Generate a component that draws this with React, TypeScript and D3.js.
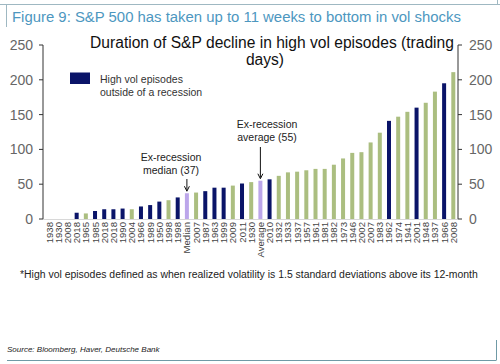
import React from "react";
import * as d3 from "d3";

const categories = [
  "1938", "1930", "2008", "2018", "1965", "1985", "2018", "2018", "1990", "2004",
  "1966", "1989", "1950", "1998", "1998", "Median", "2007", "1987", "1963", "1999",
  "2009", "2011", "1930", "Average", "2010", "1932", "1933", "1937", "1957", "1961",
  "1981", "1982", "1973", "1946", "2002", "2007", "1983", "1962", "1974", "1941",
  "2001", "1948", "1937", "1966", "2008",
];

const values = [
  0, 0, 0, 9, 8, 11.5, 14, 14, 15, 14,
  18, 20, 25, 27, 31, 37, 38, 40, 45, 45,
  48, 51, 53, 55, 57, 62, 67, 68, 70, 72,
  72, 78, 87, 95, 96, 110, 124, 141, 147, 154,
  160, 167, 183, 195, 211,
];

// n = outside of a recession, r = recession, s = statistic
const kinds = [
  "r", "r", "r", "n", "r", "n", "n", "n", "n", "r",
  "n", "n", "n", "r", "n", "s", "r", "n", "n", "n",
  "r", "n", "r", "s", "n", "r", "r", "r", "r", "r",
  "r", "r", "r", "r", "r", "r", "r", "n", "r", "r",
  "n", "r", "r", "n", "r",
];

const yTicks = [0, 50, 100, 150, 200, 250];

const COLORS: Record<string, string> = {
  n: "#0a1468",
  r: "#abbe80",
  s: "#bca6ea",
};

const FONT = "'Liberation Sans', Arial, Helvetica, sans-serif";

export default function App() {
  const W = 500;
  const H = 364;
  const x = d3.scalePoint<number>().domain(d3.range(categories.length)).range([49.1, 453.3]);
  const y = d3.scaleLinear().domain([0, 250]).range([219, 45]);
  const axL = 43;
  const axR = 458;
  const barW = 4;

  const medIdx = categories.indexOf("Median");
  const avgIdx = categories.indexOf("Average");

  const arrow = (i: number, top: number) => {
    const cx = x(i) as number;
    const tip = y(values[i]) - 2;
    return (
      <g>
        <line x1={cx} x2={cx} y1={top} y2={tip - 1} stroke="#111" />
        <path d={`M${cx - 2.5},${tip - 5} L${cx},${tip} L${cx + 2.5},${tip - 5}`} fill="none" stroke="#111" />
      </g>
    );
  };

  return (
    <svg
      width={W}
      height={H}
      style={{ position: "absolute", left: 0, top: 0, background: "#fff" }}
      fontFamily={FONT}
    >
      <rect x={0} y={0} width={W} height={H} fill="#fff" />
      {/* frame */}
      <line x1={0} x2={W} y1={4.5} y2={4.5} stroke="#9fb8c2" strokeWidth={1} />
      <line x1={6.5} x2={6.5} y1={4.5} y2={27} stroke="#9fb8c2" strokeWidth={1} />
      <line x1={497.5} x2={497.5} y1={0} y2={4.5} stroke="#9fb8c2" strokeWidth={1} />
      <line x1={7} x2={496} y1={360.5} y2={360.5} stroke="#6f9aa6" strokeWidth={1} />
      <line x1={496.5} x2={496.5} y1={340} y2={360.5} stroke="#6f9aa6" strokeWidth={1} />

      <text x={12} y={22} fontSize={14.9} fill="#4d97bf">
        Figure 9: S&amp;P 500 has taken up to 11 weeks to bottom in vol shocks
      </text>

      <text x={272} y={48} fontSize={15.6} fill="#111" textAnchor="middle">
        Duration of S&amp;P decline in high vol episodes (trading
      </text>
      <text x={265} y={65} fontSize={15.6} fill="#111" textAnchor="middle">
        days)
      </text>

      {/* left axis */}
      <line x1={axL} x2={axL} y1={y(250)} y2={y(0)} stroke="#333" strokeWidth={1} />
      {yTicks.map((t) => (
        <g key={"l" + t}>
          <line x1={axL - 4} x2={axL} y1={y(t)} y2={y(t)} stroke="#333" />
          <text x={33} y={y(t) + 5} fontSize={14} fill="#666" textAnchor="end">
            {t}
          </text>
        </g>
      ))}
      {/* right axis */}
      <line x1={axR} x2={axR} y1={y(250)} y2={y(0)} stroke="#333" strokeWidth={1} />
      {yTicks.map((t) => (
        <g key={"r" + t}>
          <line x1={axR} x2={axR + 4} y1={y(t)} y2={y(t)} stroke="#333" />
          <text x={469} y={y(t) + 5} fontSize={14} fill="#666" textAnchor="start">
            {t}
          </text>
        </g>
      ))}
      <line x1={axL} x2={axR} y1={y(0) + 0.5} y2={y(0) + 0.5} stroke="#d8d8d8" />

      {/* bars */}
      {values.map((v, i) =>
        v > 0 ? (
          <rect
            key={"b" + i}
            x={(x(i) as number) - barW / 2}
            y={y(v)}
            width={barW}
            height={y(0) - y(v)}
            fill={COLORS[kinds[i]]}
          />
        ) : null
      )}

      {/* x labels */}
      {categories.map((c, i) => (
        <text
          key={"x" + i}
          transform={`translate(${(x(i) as number) + 3.5},222) rotate(-90)`}
          fontSize={9.6}
          fill="#444"
          textAnchor="end"
        >
          {c}
        </text>
      ))}

      {/* legend */}
      <rect x={70} y={72.5} width={20} height={11.5} fill={COLORS.n} />
      <text x={100} y={83} fontSize={10.5} fill="#333">High vol episodes</text>
      <text x={100} y={96} fontSize={10.5} fill="#333">outside of a recession</text>

      {/* annotations */}
      <text x={171} y={161} fontSize={10.5} fill="#222" textAnchor="middle">Ex-recession</text>
      <text x={171} y={174} fontSize={10.5} fill="#222" textAnchor="middle">median (37)</text>
      {arrow(medIdx, 179)}

      <text x={267} y={128} fontSize={10.5} fill="#222" textAnchor="middle">Ex-recession</text>
      <text x={267} y={141} fontSize={10.5} fill="#222" textAnchor="middle">average (55)</text>
      {arrow(avgIdx, 147)}

      <text x={20} y={278} fontSize={10.45} fill="#222">
        *High vol episodes defined as when realized volatility is 1.5 standard deviations above its 12-month
      </text>

      <text x={7} y={352} fontSize={8} fontStyle="italic" fill="#222">
        Source: Bloomberg, Haver, Deutsche Bank
      </text>
    </svg>
  );
}
